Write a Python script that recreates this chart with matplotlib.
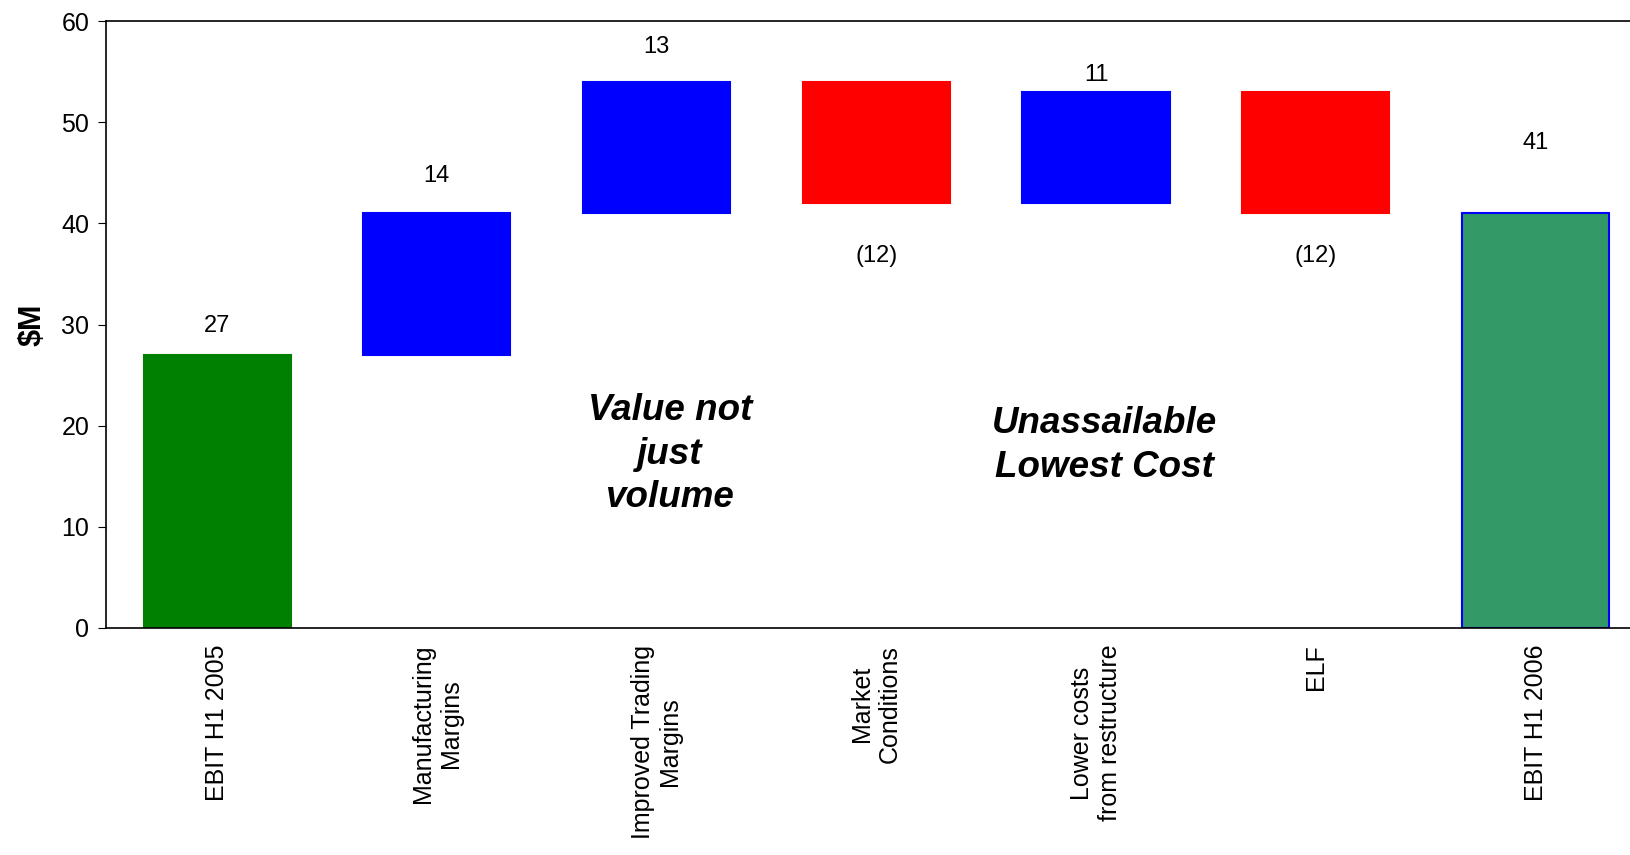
import numpy as np
import matplotlib
matplotlib.use("Agg")
from matplotlib import pyplot as plt

plt.rcParams['font.family'] = ['Liberation Sans', 'DejaVu Sans']

# waterfall data ($M)
categories = ['EBIT H1 2005', 'Manufacturing\nMargins', 'Improved Trading\nMargins',
              'Market\nConditions', 'Lower costs\nfrom restructure', 'ELF', 'EBIT H1 2006']
changes = [27, 14, 13, -12, 11, -12, 41]
is_total = [True, False, False, False, False, False, True]
value_labels = ['27', '14', '13', '(12)', '11', '(12)', '41']

bar_colors = ['#008000', '#0000FF', '#0000FF', '#FF0000', '#0000FF', '#FF0000', '#339966']
edge_colors = ['#008000', '#0000FF', '#0000FF', '#FF0000', '#0000FF', '#FF0000', '#0000FF']
# label offsets from bar edge (data units)
label_offsets = [2.9, 3.7, 3.4, -5.2, 1.7, -4.2, 6.9]

# compute bottoms / heights
bottoms = []
heights = []
running = 0
for c, tot in zip(changes, is_total):
    if tot:
        bottoms.append(0)
        heights.append(c)
        running = c
    else:
        if c >= 0:
            bottoms.append(running)
            heights.append(c)
        else:
            bottoms.append(running + c)
            heights.append(-c)
        running += c

fig = plt.figure(figsize=(16.3, 8.55), dpi=100)
ax = fig.add_axes([0.065, 0.2655, 0.935, 0.7099])

x = np.arange(len(categories))
ax.bar(x, heights, bottom=bottoms, width=0.67, color=bar_colors,
       edgecolor=edge_colors, linewidth=1.5)

# value labels
for i in range(len(categories)):
    if changes[i] >= 0:
        y = bottoms[i] + heights[i] + label_offsets[i]
    else:
        y = bottoms[i] + label_offsets[i]
    ax.text(x[i], y, value_labels[i], ha='center', va='center', fontsize=17)

# annotations
ax.text(2.06, 17.2, 'Value not\njust\nvolume', ha='center', va='center',
        fontsize=26.5, fontweight='bold', fontstyle='italic', linespacing=1.33)
ax.text(4.04, 18.0, 'Unassailable\nLowest Cost', ha='center', va='center',
        fontsize=26.5, fontweight='bold', fontstyle='italic', linespacing=1.33)

ax.set_ylim(0, 60)
ax.set_xlim(-0.506, 6.43)
ax.set_yticks(np.arange(0, 61, 10))
ax.set_xticks(x)
ax.set_xticklabels(categories, rotation=90, fontsize=18, ha='center', va='top',
                   multialignment='center')
ax.tick_params(axis='x', length=0, pad=12)
ax.tick_params(axis='y', labelsize=18, length=6, direction='out', pad=6)
ax.set_ylabel('$M', fontsize=22, fontweight='bold')
ax.yaxis.set_label_coords(-0.038, 0.5)

ax.spines['right'].set_visible(False)
for s in ['left', 'top', 'bottom']:
    ax.spines[s].set_linewidth(1.2)

fig.savefig('out.png', dpi=100)
